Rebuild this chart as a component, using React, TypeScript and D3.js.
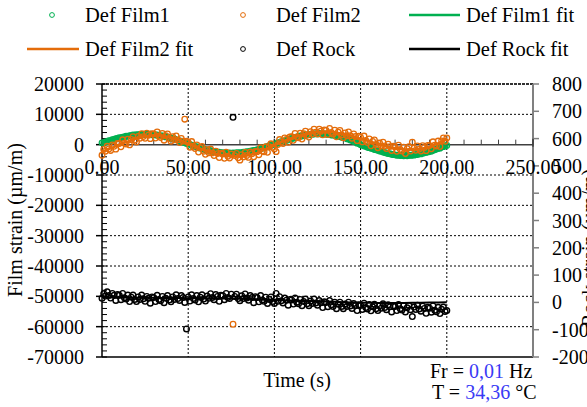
import React from 'react';
import * as d3 from 'd3';

// sample times (s)
const time = d3.range(0, 201, 1);
const fitTime = d3.range(0, 201, 5);

// Def Film1 (µm/m), one value per second
const film1 = [
  600, 580, 950, 1000, 1300, 1350, 1650, 1700, 2000, 2050,
  2300, 2250, 2500, 2550, 2800, 2750, 3000, 2950, 3200, 3100,
  3300, 3200, 3400, 3300, 3500, 3350, 3500, 3300, 3450, 3250,
  3350, 3150, 3200, 2950, 3000, 2800, 2850, 2550, 2500, 2200,
  2250, 1950, 1900, 1600, 1500, 1200, 1150, 800, 750, 400,
  250, 100, -250, -300, -600, -750, -800, -1150, -1200, -1500,
  -1650, -1700, -1900, -1950, -2150, -2250, -2300, -2500, -2450, -2700,
  -2650, -2800, -2750, -2850, -2700, -2900, -2750, -2850, -2650, -2750,
  -2650, -2700, -2450, -2500, -2300, -2350, -2100, -2050, -1850, -1850,
  -1650, -1550, -1300, -1150, -1000, -750, -700, -300, -250, 50,
  150, 250, 600, 650, 1000, 1050, 1300, 1400, 1700, 1800,
  2050, 2100, 2400, 2450, 2750, 2850, 2850, 3100, 3050, 3300,
  3250, 3400, 3450, 3500, 3650, 3550, 3700, 3500, 3650, 3450,
  3550, 3350, 3400, 3150, 3200, 3050, 2900, 2800, 2700, 2450,
  2350, 2250, 1950, 1850, 1500, 1450, 1050, 900, 500, 350,
  -50, -150, -450, -550, -850, -1000, -1200, -1300, -1600, -1700,
  -1850, -2100, -2200, -2450, -2600, -2750, -2950, -3000, -3200, -3300,
  -3350, -3500, -3450, -3600, -3550, -3650, -3500, -3650, -3450, -3550,
  -3400, -3450, -3250, -3250, -3000, -3050, -2800, -2700, -2550, -2400,
  -2250, -2150, -1850, -1700, -1450, -1250, -1150, -800, -650, -400,
  -250,
];

// Def Film2 (µm/m), one value per second
const film2 = [
  -3500, -1580, -2160, -540, -1420, -1900, -60, -520, -1480, 360,
  400, -700, 1600, 500, 200, 1800, -80, 1740, 2660, 1480,
  900, 2740, 2080, 3620, 2660, 2100, 3760, 3120, 1980, 3640,
  3500, 2160, 4220, 2880, 2340, 3700, 1480, 2960, 3540, 2020,
  1100, 2620, 1640, 2860, 1580, 700, 2080, 1160, 8400, 1120,
  700, -840, 1020, -520, -1260, -100, -2420, -1040, -560, -2180,
  -3200, -1680, -2660, -1440, -2720, -3600, -2120, -2940, -4260, -2780,
  -3100, -4480, -2460, -3840, -4420, -3100, -59200, -3600, -2900, -4300,
  -5100, -3320, -4040, -2560, -3580, -4200, -2440, -2980, -4020, -2260,
  -2300, -3360, -1020, -2080, -2340, -700, -2540, -680, 280, -860,
  -1400, -2300, 20, 1680, 840, 400, 2220, 1740, 760, 2580,
  2600, 1460, 3720, 2580, 2240, 3800, 1840, 3580, 4420, 3160,
  2500, 4300, 3600, 5100, 4100, 3500, 5120, 4440, 3260, 4880,
  4700, 3340, 5380, 4020, 3460, 4800, 2600, 4100, 4700, 3200,
  2300, 3860, 2920, 4180, 2940, 2100, 3540, 2680, 1320, 2760,
  2400, 920, 2840, 1360, 680, 1900, -380, 1040, 1560, -20,
  -1000, 540, -420, 820, -440, -1300, 180, -640, -1960, -480,
  -800, -2180, -160, -1540, -2120, -800, -2920, -1340, -660, -2080,
  800, -1140, -1880, -420, -1460, -2100, -360, -920, -1980, -240,
  -300, -1380, 940, -140, -420, 1200, -620, 1260, 2240, 1120,
  2200,
];

// Def Rock (µm/m, right axis), one value per second
const rock = [
  15, 32, 23, 39, 25, 16, 33, 26, 7, 29,
  26, 10, 33, 17, 12, 27, 3, 19, 27, 11,
  3, 20, 11, 27, 13, 4, 22, 15, -3, 20,
  18, 3, 26, 11, 6, 22, -1, 15, 25, 9,
  2, 20, 11, 28, 14, 7, 25, 18, 0, -97,
  20, 5, 28, 14, 9, 25, 2, 19, 28, 12,
  5, 23, 15, 32, 18, 10, 29, 22, 4, 26,
  25, 10, 33, 18, 14, 30, 678, 22, 30, 14,
  6, 24, 14, 31, 16, 8, 25, 18, -1, 21,
  18, 2, 25, 9, 4, 19, -4, 11, 20, 3,
  -4, 33, 4, 21, 6, -2, 16, 8, -10, 11,
  9, -6, 16, 1, -5, 11, -12, 3, 12, -5,
  -12, 5, -4, 12, -2, -10, 7, -1, -19, 2,
  0, -16, 7, -9, -15, 1, -23, -7, 1, -15,
  -23, -6, -15, 1, -13, -22, -4, -12, -30, -9,
  -11, -26, -3, -19, -24, -8, -31, -16, -7, -23,
  -30, -12, -21, -5, -19, -27, -9, -16, -35, -13,
  -15, -30, -8, -23, -28, -12, -35, -20, -11, -27,
  -52, -17, -26, -10, -24, -32, -14, -22, -40, -18,
  -21, -36, -13, -29, -34, -18, -41, -25, -17, -33,
  -30,
];

// fits, one value every 5 s
const film1Fit = [
  500, 1400, 2200, 2800, 3200, 3400, 3300, 2900, 2200, 1300,
  300, -700, -1600, -2200, -2700, -2800, -2700, -2300, -1700, -800,
  100, 1100, 2000, 2800, 3300, 3600, 3500, 3100, 2400, 1400,
  0, -1000, -1900, -2800, -3400, -3600, -3500, -3000, -2300, -1300,
  -300,
];
const film2Fit = [
  -2300, -1200, 0, 1000, 2100, 2800, 3100, 2900, 2300, 1400,
  300, -900, -2000, -2900, -3500, -3900, -3900, -3500, -2700, -1500,
  -200, 1100, 2200, 3000, 3700, 4200, 4300, 4000, 3500, 2800,
  2000, 1100, 200, -600, -1200, -1600, -1700, -1400, -700, 400,
  1800,
];
const rockFit = [
  20, 19, 18, 18, 17, 17, 17, 16, 16, 16,
  15, 15, 15, 14, 14, 14, 13, 12, 11, 10,
  9, 8, 7, 6, 5, 4, 3, 2, 1, 0,
  -1, -1, -2, -2, -2, -2, -1, -1, 0, 0,
  1,
];

const xTicks = [0, 50, 100, 150, 200, 250];
const xMinorTicks = d3.range(0, 251, 10);
const yLeftTicks = [20000, 10000, 0, -10000, -20000, -30000, -40000, -50000, -60000, -70000];
const yLeftMinor = d3.range(-70000, 20001, 2000);
const yRightTicks = [800, 700, 600, 500, 400, 300, 200, 100, 0, -100, -200];

const GREEN = '#00B050';
const ORANGE = '#E46C0A';
const BLUE = '#3A3AF5';
const FONT = '"Liberation Serif", "Times New Roman", serif';

export default function App() {
  const left = 102, right = 533, top = 84, bottom = 357;
  const x = d3.scaleLinear().domain([0, 250]).range([left, right]);
  const yL = d3.scaleLinear().domain([-70000, 20000]).range([bottom, top]);
  const yR = d3.scaleLinear().domain([-200, 800]).range([bottom, top]);
  const y0 = yL(0);

  const lineL = d3.line<number>().x((_, i) => x(fitTime[i])).y((d) => yL(d));
  const lineR = d3.line<number>().x((_, i) => x(fitTime[i])).y((d) => yR(d));
  const fmtX = d3.format('.2f');

  return (
    <svg width={587} height={407} style={{ position: 'absolute', left: 0, top: 0, background: '#fff' }} fontFamily={FONT}>
      {/* gridlines */}
      {yLeftTicks.filter((v) => v !== 0 && v !== 20000 && v !== -70000).map((v) => (
        <line key={'gy' + v} x1={left} x2={right} y1={yL(v)} y2={yL(v)} stroke="#000" strokeWidth={1} strokeDasharray="2,2" />
      ))}
      {xTicks.filter((v) => v !== 0 && v !== 250).map((v) => (
        <line key={'gx' + v} x1={x(v)} x2={x(v)} y1={top} y2={bottom} stroke="#000" strokeWidth={1} strokeDasharray="2,2" />
      ))}
      {/* top border */}
      <line x1={left} x2={right} y1={top} y2={top} stroke="#333" strokeWidth={2} strokeDasharray="3,1" />
      {/* bottom border */}
      <line x1={left} x2={right} y1={bottom} y2={bottom} stroke="#000" strokeWidth={1.5} />
      {/* right axis */}
      <line x1={right} x2={right} y1={top} y2={bottom} stroke="#808080" strokeWidth={2} />
      {yRightTicks.map((v) => (
        <g key={'yr' + v}>
          <line x1={right} x2={right + 6} y1={yR(v)} y2={yR(v)} stroke="#808080" strokeWidth={1.5} />
          <text x={552} y={yR(v)} dy="0.35em" fontSize={20} fill="#000">{v}</text>
        </g>
      ))}
      {/* left axis */}
      <line x1={left} x2={left} y1={top} y2={bottom} stroke="#000" strokeWidth={1.5} />
      {yLeftMinor.map((v) => (
        <line key={'ym' + v} x1={left} x2={left + 5} y1={yL(v)} y2={yL(v)} stroke="#000" strokeWidth={1} />
      ))}
      {yLeftTicks.map((v) => (
        <g key={'yl' + v}>
          <line x1={left - 6} x2={left} y1={yL(v)} y2={yL(v)} stroke="#000" strokeWidth={1.5} />
          <text x={84} y={yL(v)} dy="0.35em" fontSize={20} textAnchor="end" fill="#000">{v}</text>
        </g>
      ))}
      {/* x axis at zero */}
      <line x1={left} x2={right} y1={y0} y2={y0} stroke="#404040" strokeWidth={1.5} />
      {xMinorTicks.map((v) => (
        <line key={'xm' + v} x1={x(v)} x2={x(v)} y1={y0 - 5} y2={y0} stroke="#404040" strokeWidth={1} />
      ))}
      {xTicks.map((v) => (
        <line key={'xt' + v} x1={x(v)} x2={x(v)} y1={y0 - 6} y2={y0 + 2} stroke="#404040" strokeWidth={1.5} />
      ))}

      {/* series */}
      <path d={lineL(film1Fit) || ''} fill="none" stroke={GREEN} strokeWidth={4} />
      {film1.map((v, i) => (
        <circle key={'f1' + i} cx={x(time[i])} cy={yL(v)} r={2.8} fill="none" stroke={GREEN} strokeWidth={1.2} />
      ))}
      <path d={lineL(film2Fit) || ''} fill="none" stroke={ORANGE} strokeWidth={2.5} />
      {film2.map((v, i) => (
        <circle key={'f2' + i} cx={x(time[i])} cy={yL(v)} r={2.8} fill="none" stroke={ORANGE} strokeWidth={1.3} />
      ))}
      <path d={lineR(rockFit) || ''} fill="none" stroke="#000" strokeWidth={2} />
      {rock.map((v, i) => (
        <circle key={'rk' + i} cx={x(time[i])} cy={yR(v)} r={2.8} fill="none" stroke="#000" strokeWidth={1.4} />
      ))}

      {/* x tick labels */}
      {xTicks.map((v) => (
        <text key={'xl' + v} x={x(v)} y={174} fontSize={20} textAnchor="middle" fill="#000">{fmtX(v)}</text>
      ))}

      {/* axis titles */}
      <text x={297} y={387} fontSize={20} textAnchor="middle" fill="#000">Time (s)</text>
      <text transform="translate(22,220) rotate(-90)" fontSize={20} textAnchor="middle" fill="#000">Film strain (µm/m)</text>
      <text transform="translate(596,327) rotate(-90)" fontSize={20} textAnchor="start" fill="#000">Rock strain (µm/m)</text>

      {/* annotations */}
      <text x={430} y={378} fontSize={20} fill="#000">Fr = <tspan fill={BLUE}>0,01</tspan> Hz</text>
      <text x={432} y={399} fontSize={20} fill="#000">T = <tspan fill={BLUE}>34,36</tspan> °C</text>

      {/* legend */}
      <g fontSize={20.5} fill="#000">
        <circle cx={52} cy={15} r={2.4} fill="none" stroke={GREEN} strokeWidth={1} />
        <text x={85} y={21.5}>Def Film1</text>
        <circle cx={243} cy={15} r={2.4} fill="none" stroke={ORANGE} strokeWidth={1} />
        <text x={276} y={21.5}>Def Film2</text>
        <line x1={409} x2={460} y1={15} y2={15} stroke={GREEN} strokeWidth={2.5} />
        <text x={466} y={21.5}>Def Film1 fit</text>
        <line x1={27} x2={79} y1={49} y2={49} stroke={ORANGE} strokeWidth={2.5} />
        <text x={85} y={55.5}>Def Film2 fit</text>
        <circle cx={243} cy={49} r={2.4} fill="none" stroke="#000" strokeWidth={1} />
        <text x={276} y={55.5}>Def Rock</text>
        <line x1={409} x2={460} y1={49} y2={49} stroke="#000" strokeWidth={2.5} />
        <text x={466} y={55.5}>Def Rock fit</text>
      </g>
    </svg>
  );
}
